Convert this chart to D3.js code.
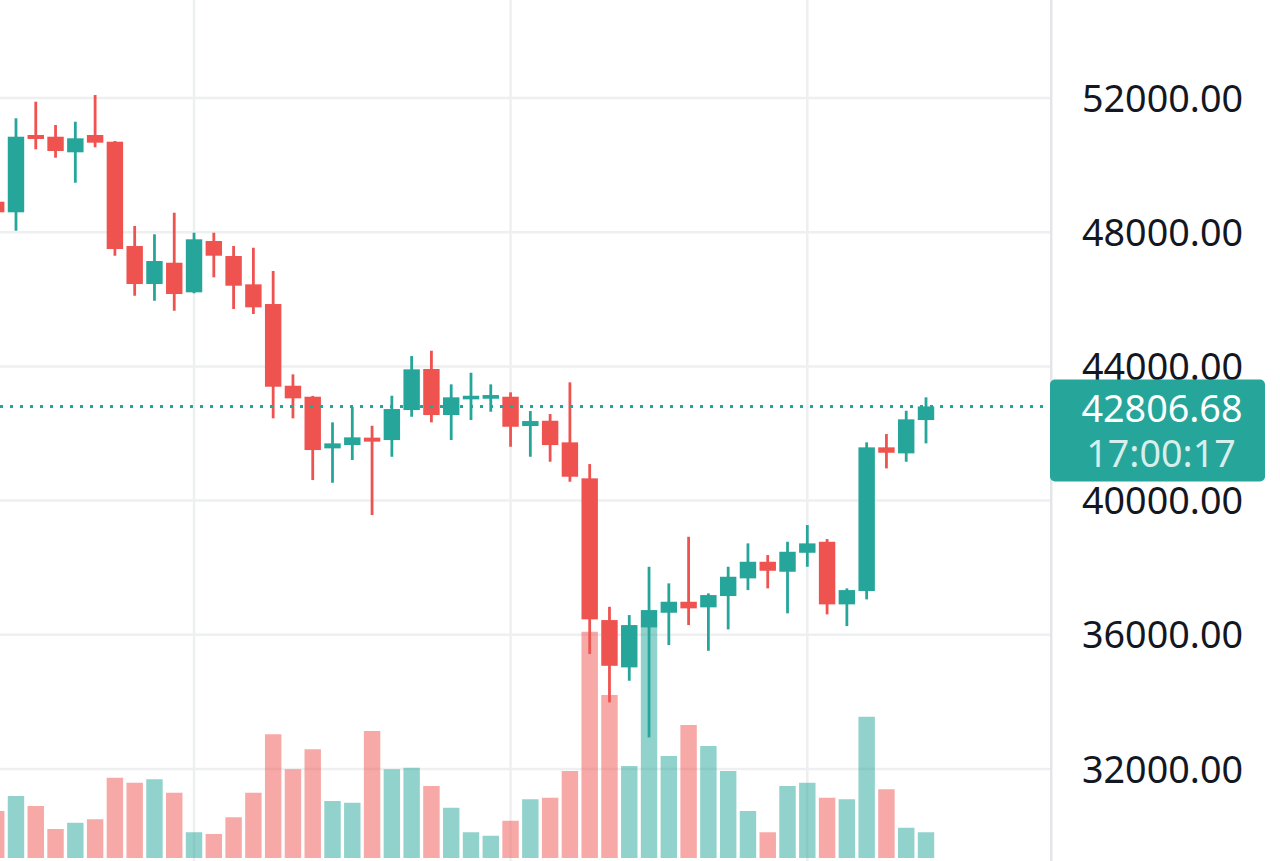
<!DOCTYPE html>
<html><head><meta charset="utf-8">
<script src="https://cdn.jsdelivr.net/npm/d3@7/dist/d3.min.js"></script>
<style>html,body{margin:0;padding:0;background:#fff;overflow:hidden}</style>
</head><body><svg id="chart" width="1280" height="861"></svg>
<script>
// ---- data (daily candles, oldest first) ----
const opens  = [48909,48593,50897,50846,50381,50897,50697,47588,46455,47090,46208,47737,47290,46446,45859,43424,43096,41557,41656,41876,41805,42699,43922,42550,43018,43036,43096,42222,42380,41736,40663,36439,35029,36221,36657,36985,36818,37155,37682,38177,37879,38445,38773,36907,37304,41587,41408,42401];
const highs  = [49050,51395,51890,51195,51293,52089,50720,48184,47937,48581,47985,47985,47588,47537,46843,43763,43120,42332,42798,42231,43125,44309,44467,43465,43811,43465,43227,42669,42580,43525,41089,36835,36588,38028,37533,38922,37235,38028,38725,38377,38773,39271,38854,37384,41736,41984,42678,43078];
const lows   = [48400,48044,50471,50220,49475,50530,47299,46106,45957,45659,46180,46655,45710,45561,42452,42452,40612,40532,41209,39569,41307,42499,42332,41805,42401,42648,41605,41307,41158,40562,35426,33986,34630,32942,35694,36290,35524,36162,37333,37384,36639,38028,36609,36260,37056,40961,41158,41706];
const closes = [48593,50846,50778,50420,50799,50668,47499,46455,47141,46157,47788,47299,46405,45761,43394,43048,41507,41706,41885,41757,42729,43912,42550,43078,43125,43146,42201,42371,41656,40711,36460,35076,36290,36737,36985,36788,37184,37730,38177,37909,38475,38725,36907,37333,41587,41426,42422,42806.68];
const volumes= [18800,24800,20800,11600,14100,15500,32100,30100,31500,26100,10300,9600,16300,26100,49500,35500,43500,22800,22100,50800,35500,36100,28800,20100,10300,8900,14900,23500,24100,34800,90500,65200,36800,92500,40800,53200,44800,34800,18800,10300,28800,30100,24100,23500,56500,27500,12100,10300];
const priceTicks = [32000,36000,40000,44000,48000,52000];
const timeGridIdx = [10,26,41];
const lastPrice = 42806.68;
const countdown = "17:00:17";

// ---- layout ----
const W = 1280, H = 861, plotRight = 1050;
const up = "#26a69a", down = "#ef5350";
const upVol = "rgba(38,166,154,0.5)", downVol = "rgba(239,83,80,0.5)";
const font = "'Noto Sans', sans-serif", fs = 37.7;
const svg = d3.select("#chart");

const x = d3.scaleLinear().domain([0, opens.length - 1]).range([-3.8, 926]);
const y = d3.scaleLinear().domain([32000, 52000]).range([769, 98]);
const yv = d3.scaleLinear().domain([0, 100000]).range([858, 608]);
const step = x(1) - x(0);
const bodyW = step * 0.83;

const data = opens.map((o, i) => ({i, o, h: highs[i], l: lows[i], c: closes[i], v: volumes[i]}));

const plot = svg.append("g");
plot.append("defs").append("clipPath").attr("id","clip")
  .append("rect").attr("x",0).attr("y",0).attr("width",plotRight).attr("height",H);
const g = plot.append("g").attr("clip-path","url(#clip)");

// grid
g.selectAll("line.hg").data(priceTicks).join("line").attr("class","hg")
  .attr("x1",0).attr("x2",plotRight).attr("y1",d=>y(d)).attr("y2",d=>y(d))
  .attr("stroke","#eeeff1").attr("stroke-width",2.5);
g.selectAll("line.vg").data(timeGridIdx).join("line").attr("class","vg")
  .attr("x1",d=>x(d)).attr("x2",d=>x(d)).attr("y1",0).attr("y2",H)
  .attr("stroke","#eeeff1").attr("stroke-width",2.5);

// volume
g.selectAll("rect.vol").data(data).join("rect").attr("class","vol")
  .attr("x",d=>x(d.i)-bodyW/2).attr("width",bodyW)
  .attr("y",d=>yv(d.v)).attr("height",d=>yv(0)-yv(d.v))
  .attr("fill",d=>d.c>=d.o?upVol:downVol);

// wicks
g.selectAll("line.wick").data(data).join("line").attr("class","wick")
  .attr("x1",d=>x(d.i)).attr("x2",d=>x(d.i))
  .attr("y1",d=>y(d.h)).attr("y2",d=>y(d.l))
  .attr("stroke",d=>d.c>=d.o?up:down).attr("stroke-width",2.8);
// bodies
g.selectAll("rect.body").data(data).join("rect").attr("class","body")
  .attr("x",d=>x(d.i)-bodyW/2).attr("width",bodyW)
  .attr("y",d=>y(Math.max(d.o,d.c)))
  .attr("height",d=>Math.max(2.5, Math.abs(y(d.o)-y(d.c))))
  .attr("fill",d=>d.c>=d.o?up:down);

// last price dotted line
g.append("line").attr("x1",0).attr("x2",plotRight)
  .attr("y1",y(lastPrice)).attr("y2",y(lastPrice))
  .attr("stroke",up).attr("stroke-width",3).attr("stroke-dasharray","3 7");

// axis separator
svg.append("line").attr("x1",plotRight+1.2).attr("x2",plotRight+1.2).attr("y1",0).attr("y2",H)
  .attr("stroke","#e4e5e8").attr("stroke-width",2.5);

// price axis labels
svg.selectAll("text.tick").data(priceTicks).join("text").attr("class","tick")
  .attr("x",1082).attr("y",d=>y(d)).attr("dy","0.36em")
  .attr("font-family",font).attr("font-size",fs)
  .attr("fill","#131722").text(d=>d3.format(".2f")(d));

// last price label
const by0 = 379.5, by1 = 481.5;
svg.append("rect").attr("x",plotRight).attr("y",by0).attr("width",1265-plotRight).attr("height",by1-by0)
  .attr("rx",5).attr("fill",up);
svg.append("text").attr("x",1162).attr("y",421.7).attr("text-anchor","middle")
  .attr("font-family",font).attr("font-size",fs)
  .attr("fill","#ffffff").text(d3.format(".2f")(lastPrice));
svg.append("text").attr("x",1161).attr("y",466.7).attr("text-anchor","middle")
  .attr("font-family",font).attr("font-size",fs)
  .attr("fill","rgba(255,255,255,0.82)").text(countdown);
</script></body></html>
